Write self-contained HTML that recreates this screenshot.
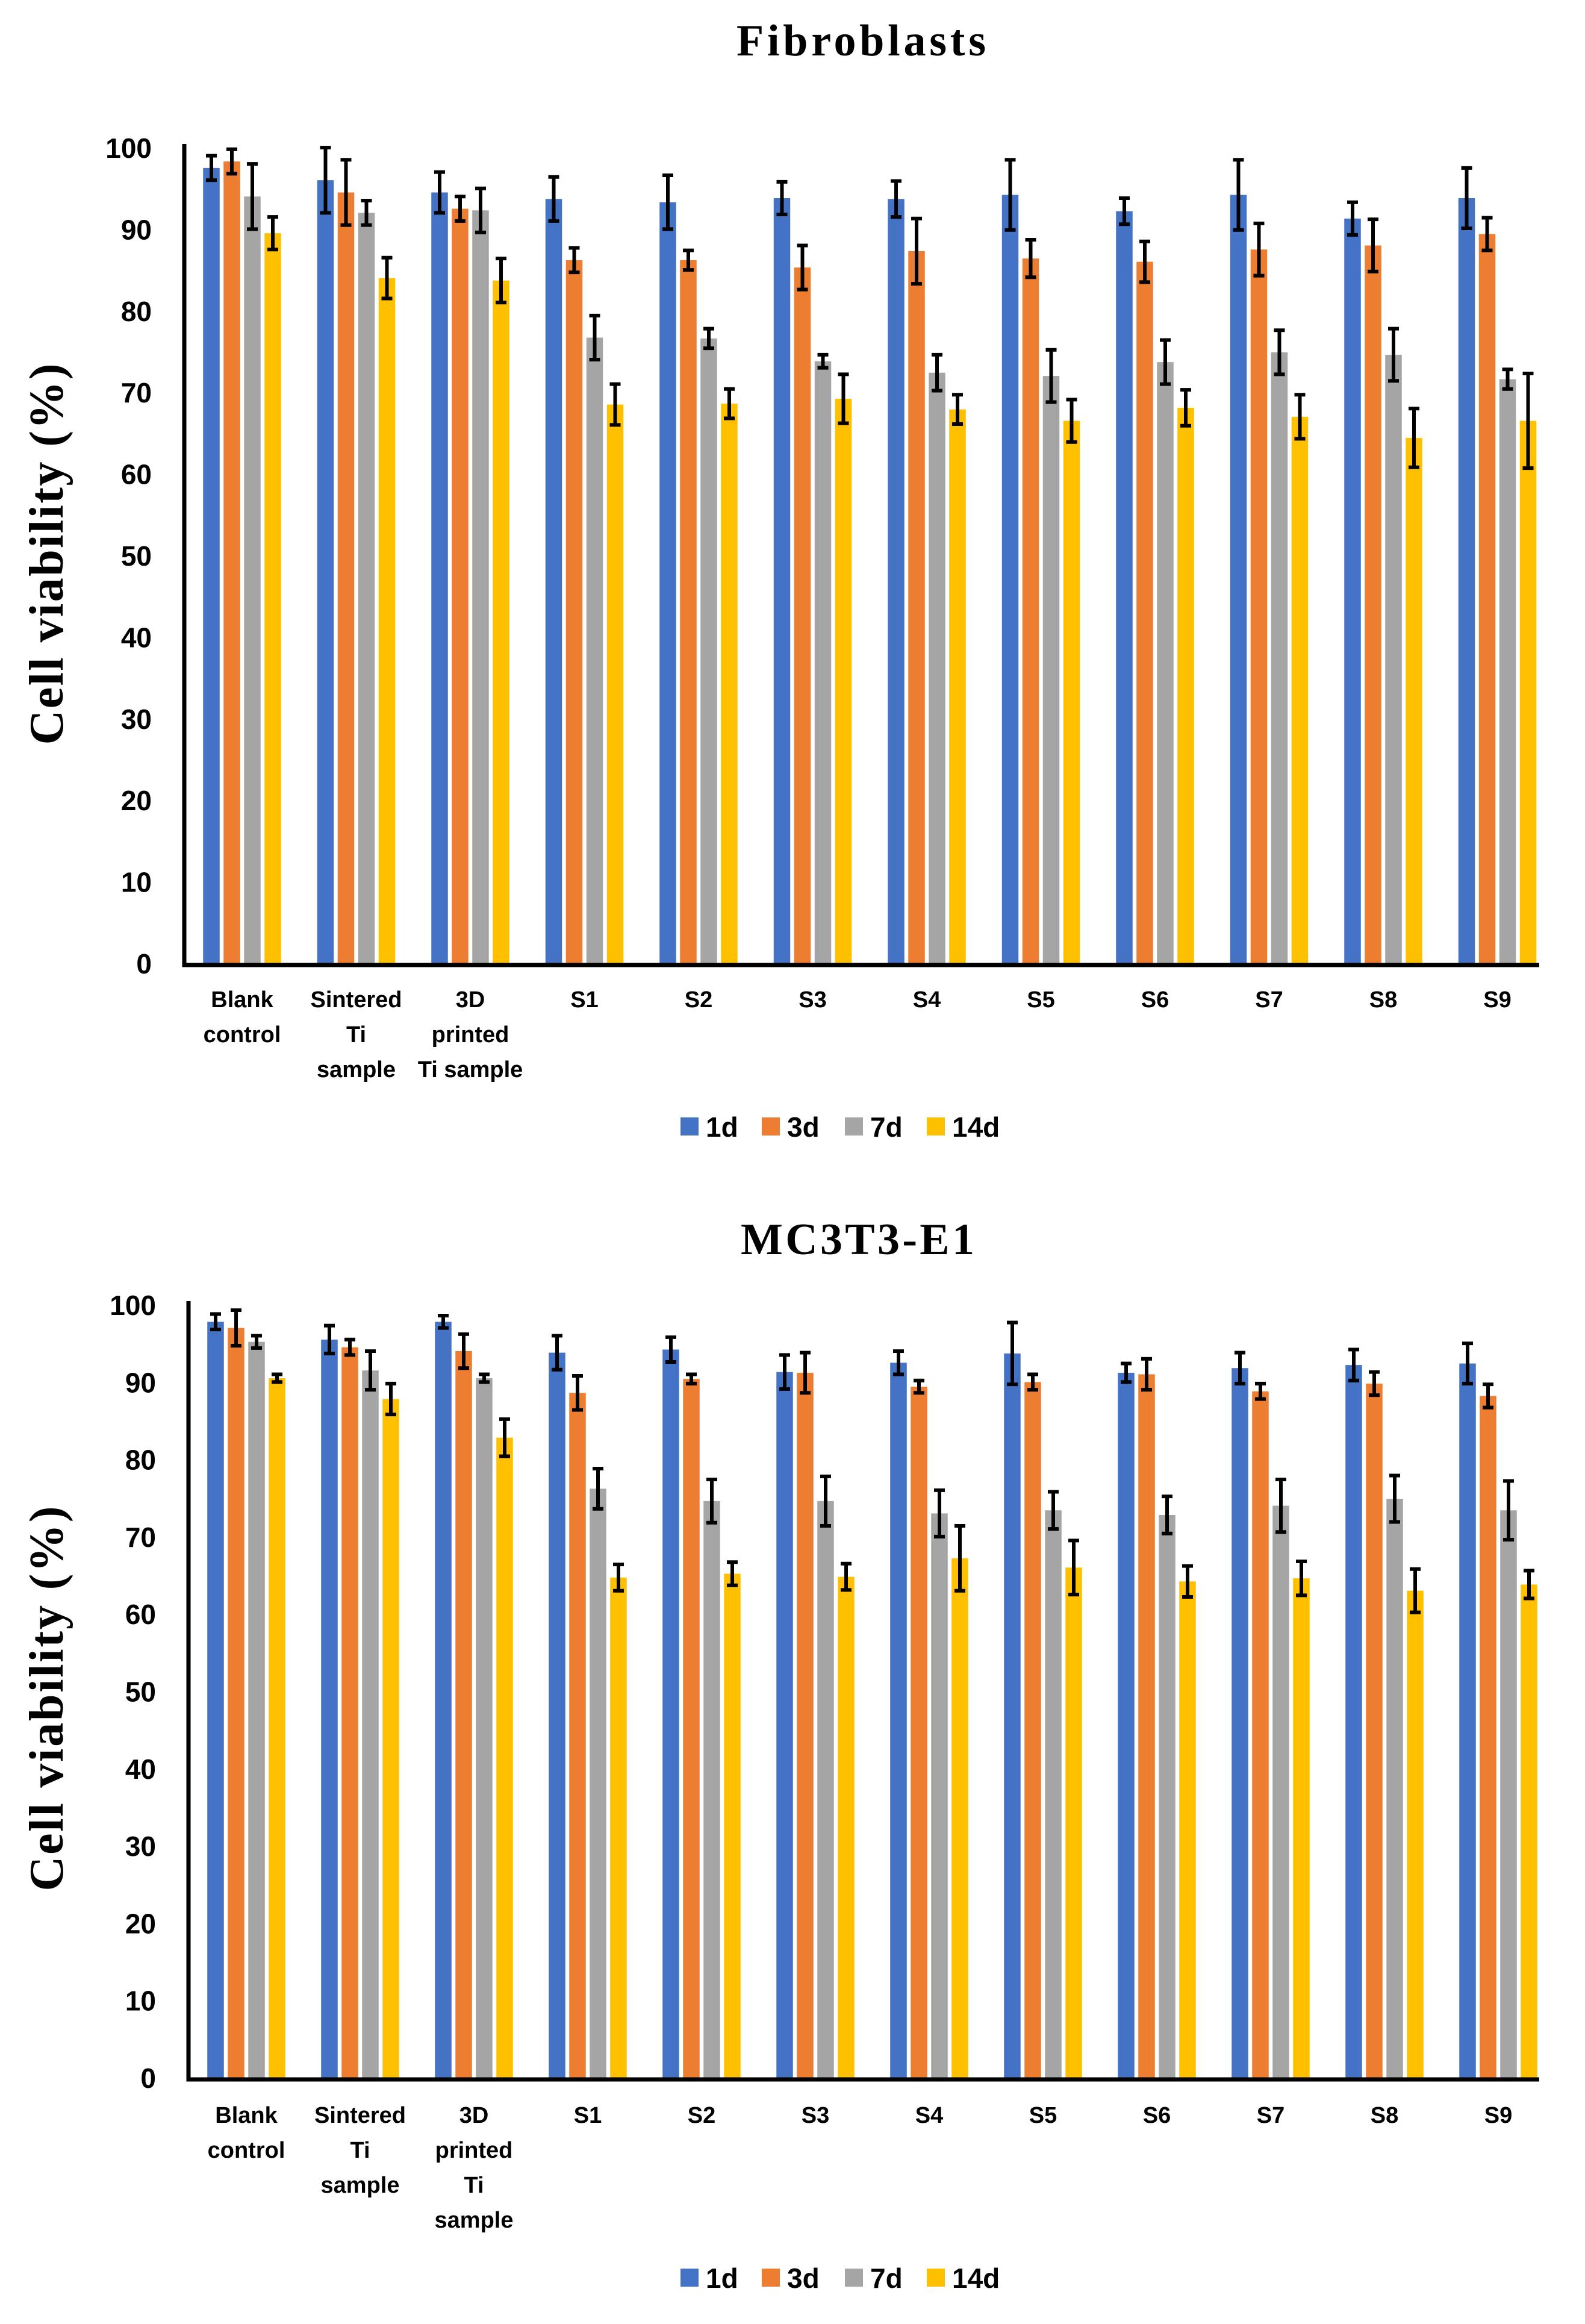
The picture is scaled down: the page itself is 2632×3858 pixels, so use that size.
<!DOCTYPE html>
<html><head><meta charset="utf-8">
<style>
html,body{margin:0;padding:0;background:#fff;}
svg{display:block;}
</style></head>
<body>
<svg id="chart" width="2632" height="3858" viewBox="0 0 2632 3858" xmlns="http://www.w3.org/2000/svg">
<text x="1430" y="92" font-family="Liberation Serif, serif" font-weight="bold" font-size="74" text-anchor="middle" textLength="414">Fibroblasts</text>
<text x="1424" y="2082" font-family="Liberation Serif, serif" font-weight="bold" font-size="74" text-anchor="middle" textLength="388">MC3T3-E1</text>
<g id="top"></g>
<g id="bot"></g>
</svg>
<script>
const categories = [["Blank","control"],["Sintered","Ti","sample"],["3D","printed","Ti sample"],["S1"],["S2"],["S3"],["S4"],["S5"],["S6"],["S7"],["S8"],["S9"]];
const categories2 = [["Blank","control"],["Sintered","Ti","sample"],["3D","printed","Ti","sample"],["S1"],["S2"],["S3"],["S4"],["S5"],["S6"],["S7"],["S8"],["S9"]];
const seriesNames = ["1d","3d","7d","14d"];
const yTicks = [0,10,20,30,40,50,60,70,80,90,100];
// Fibroblasts
const fib1d = [97.5,96,94.5,93.7,93.3,93.8,93.7,94.2,92.2,94.2,91.3,93.8];
const fib3d = [98.3,94.5,92.5,86.2,86.2,85.3,87.3,86.4,86,87.5,88,89.4];
const fib7d = [94,92,92.3,76.7,76.6,73.8,72.4,72,73.7,74.9,74.6,71.6];
const fib14d = [89.5,84,83.7,68.5,68.6,69.2,67.9,66.5,68.1,67,64.4,66.5];
const fib1dErr = [1.5,4,2.5,2.7,3.3,2,2.2,4.3,1.6,4.3,2,3.7];
const fib3dErr = [1.5,4,1.5,1.5,1.2,2.7,4,2.3,2.5,3.2,3.2,2];
const fib7dErr = [4,1.5,2.7,2.7,1.2,0.8,2.2,3.2,2.7,2.7,3.2,1.2];
const fib14dErr = [2,2.5,2.7,2.5,1.8,3,1.8,2.6,2.2,2.7,3.6,5.8];
// MC3T3-E1
const mc1d = [97.8,95.5,97.8,93.8,94.2,91.3,92.5,93.7,91.2,91.8,92.2,92.4];
const mc3d = [97,94.5,94,88.6,90.4,91.2,89.4,90,91,88.8,89.8,88.2];
const mc7d = [95.2,91.5,90.5,76.2,74.6,74.6,73,73.4,72.8,74,74.9,73.4];
const mc14d = [90.5,87.8,82.8,64.7,65.2,64.8,67.2,66,64.2,64.6,63,63.8];
const mc1dErr = [1,1.8,0.8,2.2,1.6,2.2,1.5,4,1.2,2,2,2.6];
const mc3dErr = [2.3,1,2.2,2.2,0.6,2.6,0.8,1,2,1,1.5,1.5];
const mc7dErr = [0.8,2.5,0.5,2.6,2.8,3.2,3,2.4,2.4,3.4,3,3.8];
const mc14dErr = [0.5,2,2.4,1.7,1.5,1.7,4.2,3.5,2,2.2,2.8,1.8];

const colors = ["#4472C4","#ED7D31","#A5A5A5","#FFC000"];
const NS = "http://www.w3.org/2000/svg";
function mk(parent, tag, attrs){const e=document.createElementNS(NS,tag);for(const k in attrs)e.setAttribute(k,attrs[k]);parent.appendChild(e);return e;}

function draw(g, cfg, cats, series, errs){
  const yScale = v => cfg.y0 - (cfg.y0 - cfg.y100) * v / 100;
  const xCenter = i => cfg.c0 + i * cfg.step;
  const bw = 27.5, pitch = 34;
  // y title
  const yt = mk(g,'text',{x:0,y:0,transform:`translate(${cfg.ytx},${cfg.yty}) rotate(-90)`,'font-family':'Liberation Serif, serif','font-weight':'bold','font-size':80,'text-anchor':'middle','dominant-baseline':'central',textLength:cfg.ytLen});
  
  
  yt.textContent = 'Cell viability (%)';
  yTicks.forEach(t=>{
    const tx = mk(g,'text',{x:cfg.axisX-54,y:yScale(t)+17,'font-family':'Liberation Sans, sans-serif','font-weight':'bold','font-size':46,'text-anchor':'end'});
    
    
    tx.textContent = t;
  });
  cats.forEach((lines,i)=>{
    series.forEach((vals,s)=>{
      const x = xCenter(i) - 2*pitch + s*pitch + (pitch-bw)/2;
      const v = vals[i];
      const r = mk(g,'rect',{x:x,y:yScale(v),width:bw,height:yScale(0)-yScale(v),fill:colors[s]});
      
      
      const e = errs[s][i];
      const cx = x + bw/2;
      const eg = mk(g,'g',{stroke:'#000','stroke-width':6});
      
      
      mk(eg,'line',{x1:cx,x2:cx,y1:yScale(v+e),y2:yScale(v-e)});
      mk(eg,'line',{x1:cx-9,x2:cx+9,y1:yScale(v+e),y2:yScale(v+e)});
      mk(eg,'line',{x1:cx-9,x2:cx+9,y1:yScale(v-e),y2:yScale(v-e)});
    });
    lines.forEach((ln,k)=>{
      const t = mk(g,'text',{x:xCenter(i),y:cfg.labY+k*58,'font-family':'Liberation Sans, sans-serif','font-weight':'bold','font-size':38,'text-anchor':'middle'});
      
      
      t.textContent = ln;
    });
  });
  const ax = mk(g,'path',{d:`M${cfg.axisX},${cfg.y100-6} V${yScale(0)+3} H2556`,fill:'none',stroke:'#000','stroke-width':7});
  
  
  const lx = [1130,1265,1403,1539];
  seriesNames.forEach((n,s)=>{
    const lg = mk(g,'g',{});
    
    
    mk(lg,'rect',{x:lx[s],y:cfg.legY-15,width:30,height:30,fill:colors[s]});
    const t = mk(lg,'text',{x:lx[s]+42,y:cfg.legY+17,'font-family':'Liberation Sans, sans-serif','font-weight':'bold','font-size':46});
    t.textContent = n;
  });
}
draw(document.getElementById('top'),
  {y0:1599,y100:245,axisX:306,c0:402,step:189.5,labY:1672,legY:1870,ytx:78,yty:920,ytLen:633},
  categories,[fib1d,fib3d,fib7d,fib14d],[fib1dErr,fib3dErr,fib7dErr,fib14dErr]);
draw(document.getElementById('bot'),
  {y0:3449,y100:2166,axisX:313,c0:409,step:189,labY:3524,legY:3781,ytx:78,yty:2820,ytLen:639},
  categories2,[mc1d,mc3d,mc7d,mc14d],[mc1dErr,mc3dErr,mc7dErr,mc14dErr]);
</script>
</body></html>
